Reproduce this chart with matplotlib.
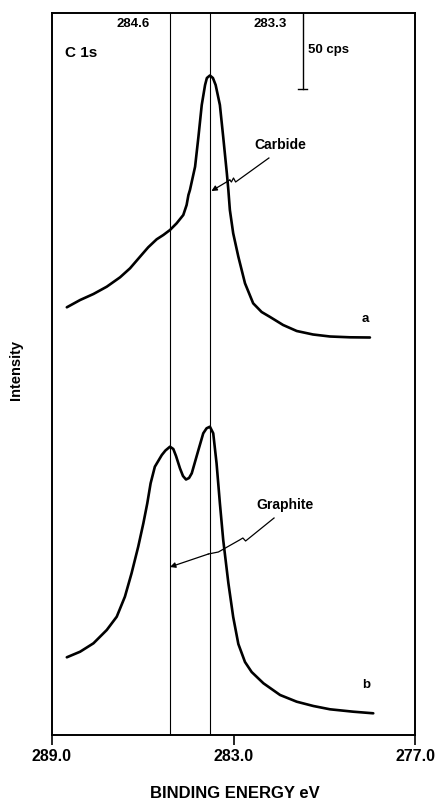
import matplotlib
matplotlib.use("Agg")
import matplotlib.pyplot as plt

plt.rcParams['font.family'] = ['Liberation Sans', 'DejaVu Sans']
plt.rcParams['font.weight'] = 'bold'

# ---- data (binding energy in eV, intensity in arbitrary units) ----
energy_a = [288.51, 288.07, 287.63, 287.19, 286.75, 286.42, 286.09, 285.82, 285.54,
            285.32, 285.10, 284.88, 284.66, 284.55, 284.49, 284.44, 284.27, 284.16,
            284.05, 283.94, 283.88, 283.78, 283.68, 283.59, 283.45, 283.34, 283.22,
            283.17, 283.12, 283.01, 282.84, 282.62, 282.35, 282.07, 281.79, 281.36,
            280.91, 280.37, 279.81, 279.15, 278.49]
intensity_a = [427.7, 435, 441, 448.3, 457.7, 466.7, 478.3, 487.7, 495.7,
               500, 505, 511.7, 520, 530, 540, 545, 568.3, 598,
               630, 650, 657, 659.5, 657, 650, 630, 598, 561.7,
               545, 525, 501.7, 478.3, 451.7, 431.7, 423, 418, 410,
               404, 400.5, 398.5, 397.7, 397.5]

energy_b = [288.51, 288.07, 287.63, 287.19, 286.86, 286.59, 286.37, 286.15, 285.98,
            285.85, 285.74, 285.60, 285.37, 285.25, 285.10, 284.99, 284.90, 284.77,
            284.67, 284.57, 284.47, 284.38, 284.16, 284.00, 283.89, 283.78, 283.67,
            283.56, 283.45, 283.34, 283.17, 283.01, 282.84, 282.62, 282.40, 282.01,
            281.46, 280.91, 280.36, 279.81, 279.04, 278.38]
intensity_b = [77.7, 83.3, 91.7, 105, 118.3, 138.3, 161.7, 188.3, 211.7,
               231.7, 251.7, 268.3, 280, 284.5, 288.3, 286, 279, 266.7,
               259, 255.5, 257, 261.7, 285, 301.7, 306.7, 308.3, 301.7,
               271.7, 231.7, 195, 152, 118, 91, 73, 63, 51.7,
               40, 33.3, 29, 25.7, 23.3, 21.7]

ref_line_positions = [285.10, 283.78]
ref_line_labels = ['284.6', '283.3']

x_ticks = [289.0, 283.0, 277.0]
x_tick_labels = ['289.0', '283.0', '277.0']

# ---- figure ----
fig = plt.figure(figsize=(4.4, 8.0), dpi=100)
ax = fig.add_axes([52/440, 65/800, 363/440, 722/800])

ax.set_xlim(289.0, 277.0)
ax.set_ylim(0, 722)

lw_curve = 1.9
ax.plot(energy_a, intensity_a, color='black', lw=lw_curve,
        solid_joinstyle='round', solid_capstyle='round')
ax.plot(energy_b, intensity_b, color='black', lw=lw_curve,
        solid_joinstyle='round', solid_capstyle='round')

for xv in ref_line_positions:
    ax.axvline(xv, color='black', lw=0.8)

# labels of reference lines
ax.text(286.32, 711, ref_line_labels[0], ha='center', va='center', fontsize=9.5, fontweight='bold')
ax.text(281.80, 711, ref_line_labels[1], ha='center', va='center', fontsize=9.5, fontweight='bold')

# C 1s
ax.text(288.57, 682, 'C 1s', ha='left', va='center', fontsize=11, fontweight='bold')

# scale bar 50 cps
ax.plot([280.71, 280.71], [722, 646], color='black', lw=1.0)
ax.plot([280.87, 280.57], [646, 646], color='black', lw=1.0)
ax.text(280.54, 685, '50 cps', ha='left', va='center', fontsize=9.5, fontweight='bold')

# curve labels
ax.text(278.65, 416, 'a', ha='center', va='center', fontsize=9.5, fontweight='bold')
ax.text(278.60, 50, 'b', ha='center', va='center', fontsize=9.5, fontweight='bold')

# Carbide annotation
ax.text(281.46, 590, 'Carbide', ha='center', va='center', fontsize=10, fontweight='bold')
ax.plot([281.83, 282.93, 283.00, 283.07, 283.12], [577, 553, 557, 553, 555],
        color='black', lw=0.9)
ax.annotate('', xy=(283.73, 544), xytext=(283.12, 555),
            arrowprops=dict(arrowstyle='-|>', color='black', lw=0.9,
                            mutation_scale=8, shrinkA=0, shrinkB=0))

# Graphite annotation
ax.text(281.30, 230, 'Graphite', ha='center', va='center', fontsize=10, fontweight='bold')
ax.plot([281.66, 282.60, 282.69, 282.80, 283.50, 283.83], [217, 194, 197, 195, 183, 181],
        color='black', lw=0.9)
ax.annotate('', xy=(285.10, 168), xytext=(283.83, 181),
            arrowprops=dict(arrowstyle='-|>', color='black', lw=0.9,
                            mutation_scale=8, shrinkA=0, shrinkB=0))

# axes styling
for s in ax.spines.values():
    s.set_linewidth(1.4)
ax.set_yticks([])
ax.set_xticks(x_ticks)
ax.set_xticklabels(x_tick_labels, fontsize=11.5, fontweight='bold')
ax.tick_params(axis='x', direction='out', length=7, width=1.2, pad=3)

fig.text(235/440, 1 - 793/800, 'BINDING ENERGY eV', ha='center', va='center',
         fontsize=12, fontweight='bold')
fig.text(16/440, 1 - 370/800, 'Intensity', ha='center', va='center', rotation=90,
         fontsize=10.5, fontweight='bold')

fig.savefig('out.png', dpi=100)
